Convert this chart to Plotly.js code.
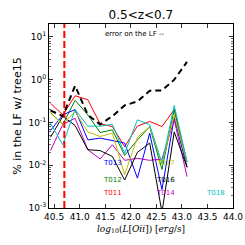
<!DOCTYPE html>
<html>
<head>
<meta charset="utf-8">
<script src="https://cdn.plot.ly/plotly-3.0.1.min.js"></script>
<style>html,body{margin:0;padding:0;background:#fff;}#chart{width:245px;height:245px;}</style>
</head>
<body>
<div id="chart"></div>
<script>
// data
const lum = [40.43, 40.67, 40.91, 41.16, 41.40, 41.64, 41.88, 42.13, 42.37, 42.61, 42.85, 43.10];
const T011 = [0.28, 0.15, 0.42, 0.34, 0.093, 0.080, 0.027, 0.082, 0.105, 0.080, 0.20, 0.012];
const T012 = [0.17, 0.09, 0.33, 0.15, 0.058, 0.067, 0.017, 0.039, 0.080, 0.008, 0.20, 0.009];
const T013 = [0.065, 0.15, 0.20, 0.039, 0.043, 0.038, 0.033, 0.005, 0.056, 0.0027, 0.13, 0.009];
const T014 = [0.022, 0.09, 0.125, 0.023, 0.014, 0.030, 0.013, 0.0145, 0.013, 0.014, 0.115, 0.0054];
const T016 = [0.045, 0.14, 0.085, 0.023, 0.022, 0.016, 0.0045, 0.020, 0.033, 0.0008, 0.060, 0.009];
const T017 = [0.165, 0.09, 0.18, 0.060, 0.047, 0.056, 0.006, 0.045, 0.080, 0.011, 0.15, 0.011];
const T018 = [0.095, 0.03, 0.20, 0.082, 0.082, 0.090, 0.019, 0.115, 0.088, 0.011, 0.25, 0.012];
const errLF = [0.19, 0.14, 0.72, 0.15, 0.09, 0.14, 0.25, 0.31, 0.55, 0.56, 1.0, 2.6];
const lumCut = 40.7;
const seriesNames = ['T011','T012','T013','T014','T016','T017','T018'];
const seriesVals = [T011, T012, T013, T014, T016, T017, T018];
const seriesColors = ['#ff0000','#008000','#0000ff','#bf00bf','#000000','#bfbf00','#00bfbf'];
const xTicks = [40.5, 41.0, 41.5, 42.0, 42.5, 43.0, 43.5, 44.0];
const yTickExp = [-3, -2, -1, 0, 1];

const traces = seriesVals.map((v, i) => ({
  x: lum, y: v, type: 'scatter', mode: 'lines', name: seriesNames[i],
  line: {color: seriesColors[i], width: 1}, showlegend: false
}));
traces.push({x: lum, y: errLF, type: 'scatter', mode: 'lines', name: 'error on the LF',
  line: {color: '#000', width: 2, dash: '6px,4px'}, showlegend: false});

const minorVals = [];
for (let e = -3; e <= 1; e++) for (let m = 2; m <= 9; m++) minorVals.push(m * Math.pow(10, e));

// label placement (paper coords)
const labelPos = {
  T013: [0.344, 0.245], T012: [0.344, 0.152], T011: [0.344, 0.082],
  T017: [0.631, 0.245], T016: [0.631, 0.152], T014: [0.631, 0.082], T018: [0.905, 0.082]
};
const annotations = seriesNames.map((n, i) => ({
  text: n, xref: 'paper', yref: 'paper', x: labelPos[n][0], y: labelPos[n][1],
  showarrow: false, font: {family: 'DejaVu Sans', size: 7, color: seriesColors[i]},
  xanchor: 'center', yanchor: 'middle'
}));
annotations.push({text: 'error on the LF --', xref: 'paper', yref: 'paper', x: 0.469, y: 0.946,
  showarrow: false, font: {family: 'DejaVu Sans', size: 7, color: '#000'}, xanchor: 'center', yanchor: 'middle'});

const layout = {
  width: 245, height: 245,
  margin: {l: 49, r: 12, t: 24, b: 37},
  paper_bgcolor: '#fff', plot_bgcolor: '#fff',
  title: {text: '0.5<z<0.7', font: {family: 'DejaVu Sans', size: 12, color: '#000'},
    x: 0.575, xanchor: 'center', y: 0.94, yanchor: 'middle'},
  xaxis: {
    range: [40.4, 44.0], tickmode: 'array', tickvals: xTicks,
    ticktext: xTicks.map(v => v.toFixed(1)),
    ticks: 'inside', ticklen: 4, tickcolor: '#000', tickwidth: 0.8,
    showline: true, linecolor: '#000', linewidth: 1, mirror: 'allticks',
    showgrid: false, zeroline: false,
    tickfont: {family: 'DejaVu Sans', size: 9, color: '#000'},
    title: {text: '<i>log</i><sub>10</sub>(<i>L</i>[<i>Oii</i>]) [<i>erg</i>/<i>s</i>]',
      font: {family: 'DejaVu Serif', size: 9, color: '#000'}, standoff: 4}
  },
  yaxis: {
    type: 'log', range: [-3, 1.301], tickmode: 'array',
    tickvals: yTickExp.map(e => Math.pow(10, e)),
    ticktext: yTickExp.map(e => '10<sup>' + (e < 0 ? '-' + (-e) : e) + '</sup>'),
    ticks: 'inside', ticklen: 4, tickcolor: '#000', tickwidth: 0.8,
    minor: {tickmode: 'array', tickvals: minorVals, ticks: 'inside', ticklen: 2, tickcolor: '#000', tickwidth: 0.6, showgrid: false},
    showline: true, linecolor: '#000', linewidth: 1, mirror: 'allticks',
    showgrid: false, zeroline: false,
    tickfont: {family: 'DejaVu Sans', size: 9, color: '#000'},
    title: {text: '% in the LF w/ tree15', font: {family: 'DejaVu Sans', size: 11, color: '#000'}, standoff: 4}
  },
  shapes: [{type: 'line', xref: 'x', yref: 'paper', x0: lumCut, x1: lumCut, y0: 0, y1: 1,
    line: {color: '#ff0000', width: 2, dash: '7px,3px'}}],
  annotations: annotations,
  showlegend: false
};
Plotly.newPlot('chart', traces, layout, {staticPlot: true, displayModeBar: false});
</script>
</body>
</html>
